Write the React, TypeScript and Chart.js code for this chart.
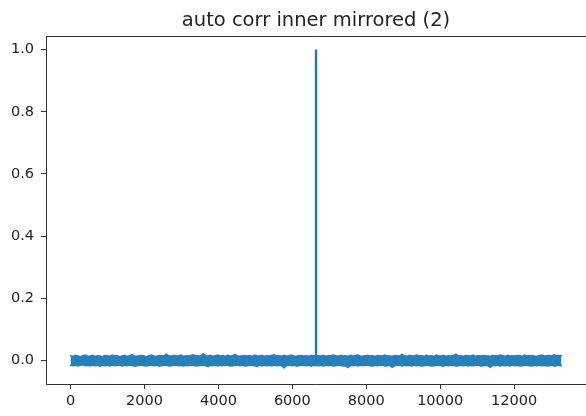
import React, { useEffect, useRef } from "react";
import { Chart, registerables } from "chart.js";

Chart.register(...registerables);

const TITLE = "auto corr inner mirrored (2)";
const SPIKE_LAG = 6640;
const LAST_LAG = 13280;
const SPIKE_VALUE = 1.0;
const X_TICKS = [0, 2000, 4000, 6000, 8000, 10000, 12000];
const Y_TICKS = [0.0, 0.2, 0.4, 0.6, 0.8, 1.0];

// upper / lower edge of the noise band before the central peak (evenly spaced lags)
const LEFT_UPPER = [
  0.016,0.014,0.017,0.015,0.013,0.016,0.018,0.014,0.015,0.017,
  0.014,0.016,0.015,0.013,0.017,0.016,0.014,0.018,0.015,0.016,
  0.013,0.015,0.017,0.014,0.016,0.019,0.015,0.014,0.016,0.017,
  0.015,0.013,0.016,0.018,0.015,0.014,0.017,0.016,0.015,0.021,
  0.016,0.014,0.017,0.015,0.016,0.018,0.014,0.016,0.015,0.017,
  0.019,0.015,0.016,0.014,0.022,0.016,0.015,0.017,0.014,0.016,
  0.018,0.015,0.016,0.014,0.017,0.015,0.016,0.020,0.015,0.014,
  0.016,0.017,0.015,0.016,0.014,0.018,0.016,0.015,0.017,0.014,
  0.016,0.015,0.017,0.019,0.015,0.016,0.014,0.017,0.015,0.016,
  0.018,0.015,0.014,0.016,0.017,0.015,0.016,0.014,0.017,0.016,
];
const LEFT_LOWER = [
  -0.015,-0.016,-0.014,-0.017,-0.015,-0.013,-0.016,-0.015,-0.017,-0.014,
  -0.016,-0.015,-0.018,-0.014,-0.016,-0.015,-0.017,-0.014,-0.016,-0.015,
  -0.014,-0.017,-0.015,-0.016,-0.014,-0.015,-0.018,-0.016,-0.015,-0.014,
  -0.016,-0.017,-0.015,-0.014,-0.016,-0.015,-0.017,-0.016,-0.014,-0.015,
  -0.017,-0.016,-0.015,-0.014,-0.016,-0.015,-0.017,-0.015,-0.016,-0.014,
  -0.015,-0.017,-0.016,-0.015,-0.014,-0.016,-0.019,-0.015,-0.016,-0.014,
  -0.017,-0.015,-0.016,-0.014,-0.015,-0.017,-0.016,-0.015,-0.014,-0.016,
  -0.015,-0.017,-0.016,-0.014,-0.015,-0.016,-0.018,-0.015,-0.016,-0.014,
  -0.016,-0.015,-0.017,-0.014,-0.016,-0.015,-0.016,-0.023,-0.015,-0.014,
  -0.016,-0.015,-0.017,-0.016,-0.014,-0.015,-0.016,-0.015,-0.017,-0.015,
];

// upper / lower edge of the noise band after the central peak
const RIGHT_UPPER = [
  0.016,0.015,0.017,0.014,0.016,0.015,0.018,0.016,0.014,0.017,
  0.015,0.016,0.014,0.017,0.015,0.016,0.018,0.015,0.014,0.016,
  0.017,0.015,0.016,0.014,0.017,0.016,0.015,0.018,0.016,0.015,
  0.014,0.017,0.016,0.015,0.020,0.016,0.014,0.017,0.015,0.016,
  0.018,0.015,0.016,0.014,0.017,0.015,0.016,0.014,0.018,0.016,
  0.015,0.017,0.014,0.016,0.015,0.017,0.021,0.015,0.016,0.014,
  0.017,0.016,0.015,0.018,0.014,0.016,0.015,0.017,0.016,0.015,
  0.014,0.017,0.016,0.015,0.018,0.016,0.014,0.017,0.015,0.016,
  0.015,0.017,0.016,0.014,0.018,0.015,0.016,0.017,0.015,0.014,
  0.016,0.018,0.015,0.016,0.017,0.015,0.019,0.016,0.017,0.016,
];
const RIGHT_LOWER = [
  -0.016,-0.015,-0.017,-0.014,-0.016,-0.015,-0.017,-0.016,-0.014,-0.015,
  -0.017,-0.016,-0.022,-0.015,-0.016,-0.014,-0.017,-0.015,-0.016,-0.015,
  -0.014,-0.016,-0.017,-0.015,-0.016,-0.014,-0.015,-0.017,-0.016,-0.015,
  -0.021,-0.016,-0.015,-0.014,-0.017,-0.015,-0.016,-0.015,-0.017,-0.014,
  -0.016,-0.015,-0.017,-0.016,-0.014,-0.015,-0.017,-0.016,-0.015,-0.014,
  -0.016,-0.017,-0.015,-0.016,-0.014,-0.015,-0.017,-0.016,-0.015,-0.016,
  -0.014,-0.017,-0.015,-0.016,-0.015,-0.014,-0.017,-0.016,-0.015,-0.016,
  -0.021,-0.015,-0.016,-0.014,-0.017,-0.015,-0.016,-0.015,-0.017,-0.014,
  -0.016,-0.015,-0.017,-0.016,-0.014,-0.015,-0.016,-0.017,-0.015,-0.016,
  -0.014,-0.016,-0.015,-0.017,-0.016,-0.015,-0.017,-0.016,-0.015,-0.016,
];

const X_MIN = -664;
const X_MAX = 13944;
const Y_MIN = -0.0749;
const Y_MAX = 1.0434;

const BLUE = "#1f77b4";
const BAND_BLUE = "#2480bf";

function buildEdge(left: number[], right: number[]) {
  const pts: { x: number; y: number }[] = [];
  const stepL = SPIKE_LAG / left.length;
  left.forEach((v, i) => pts.push({ x: i * stepL, y: v }));
  const stepR = (LAST_LAG - SPIKE_LAG) / right.length;
  right.forEach((v, i) => pts.push({ x: SPIKE_LAG + (i + 1) * stepR, y: v }));
  return pts;
}

const framePlugin = {
  id: "frame",
  afterDraw(chart: any) {
    const { ctx, chartArea } = chart;
    ctx.save();
    ctx.strokeStyle = "#333";
    ctx.lineWidth = 1;
    ctx.beginPath();
    ctx.moveTo(chartArea.left, Math.round(chartArea.top) + 0.5);
    ctx.lineTo(chartArea.right + 1, Math.round(chartArea.top) + 0.5);
    ctx.stroke();
    ctx.fillStyle = "#222";
    ctx.font = "19.5px 'DejaVu Sans', sans-serif";
    ctx.textAlign = "center";
    ctx.textBaseline = "middle";
    ctx.fillText(TITLE, (chartArea.left + chartArea.right) / 2, 21);
    ctx.restore();
  },
};

export default function App() {
  const ref = useRef<HTMLCanvasElement>(null);
  useEffect(() => {
    if (!ref.current) return;
    const font = { family: "'DejaVu Sans', sans-serif", size: 14.5 };
    const chart = new Chart(ref.current, {
      type: "line",
      data: {
        datasets: [
          {
            data: buildEdge(LEFT_UPPER, RIGHT_UPPER),
            borderColor: BAND_BLUE,
            backgroundColor: BAND_BLUE,
            borderWidth: 1.5,
            borderCapStyle: "round",
            pointRadius: 0,
            fill: "+1",
            tension: 0,
          },
          {
            data: buildEdge(LEFT_LOWER, RIGHT_LOWER),
            borderColor: BAND_BLUE,
            backgroundColor: BAND_BLUE,
            borderWidth: 1.5,
            borderCapStyle: "round",
            pointRadius: 0,
            fill: false,
            tension: 0,
          },
          {
            data: [
              { x: SPIKE_LAG, y: 0 },
              { x: SPIKE_LAG, y: SPIKE_VALUE },
            ],
            borderColor: BLUE,
            borderWidth: 2.4,
            pointRadius: 0,
            fill: false,
          },
        ],
      },
      options: {
        animation: false,
        responsive: false,
        maintainAspectRatio: false,
        layout: { padding: { left: 0, right: 0, top: 36, bottom: 0 } },
        plugins: {
          legend: { display: false },
          tooltip: { enabled: false },
          title: { display: false },
        },
        scales: {
          x: {
            type: "linear",
            min: X_MIN,
            max: X_MAX,
            afterFit: (s: any) => { s.height = 32; },
            afterBuildTicks: (s: any) => { s.ticks = X_TICKS.map((v) => ({ value: v })); },
            grid: { drawOnChartArea: false, tickLength: 5, color: "#333", lineWidth: 1 },
            border: { display: true, color: "#333", width: 1 },
            ticks: { font, color: "#222", padding: 4, maxRotation: 0, callback: (v: any) => String(v) },
          },
          y: {
            type: "linear",
            min: Y_MIN,
            max: Y_MAX,
            afterFit: (s: any) => { s.width = 46; },
            afterBuildTicks: (s: any) => { s.ticks = Y_TICKS.map((v) => ({ value: v })); },
            grid: { drawOnChartArea: false, tickLength: 5, color: "#333", lineWidth: 1 },
            border: { display: true, color: "#333", width: 1 },
            ticks: { font, color: "#222", padding: 7, callback: (v: any) => Number(v).toFixed(1) },
          },
        },
      },
      plugins: [framePlugin],
    });
    return () => chart.destroy();
  }, []);
  return (
    <div style={{ position: "fixed", left: 0, top: 0, width: 586, height: 416, background: "#fff" }}>
      <canvas ref={ref} width={586} height={416} style={{ width: 586, height: 416 }} />
    </div>
  );
}
